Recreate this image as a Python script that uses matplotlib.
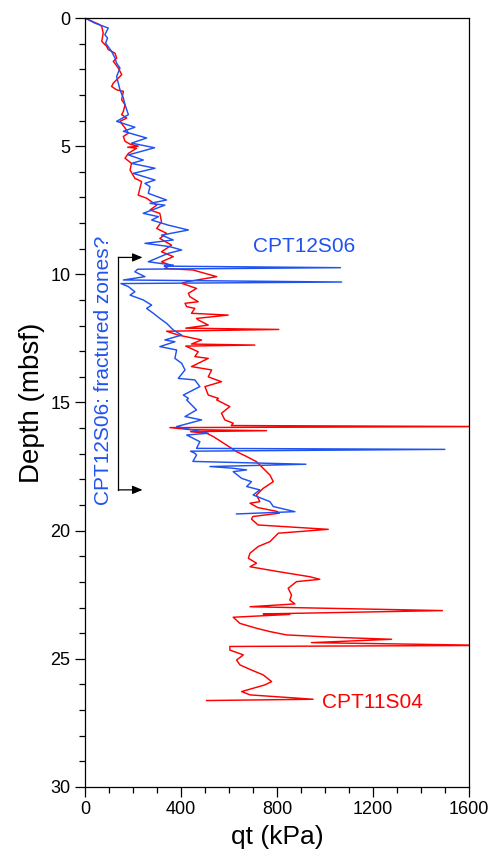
import matplotlib
matplotlib.use('Agg')
import matplotlib.pyplot as plt
from matplotlib.ticker import MultipleLocator

plt.rcParams['font.family'] = ['Liberation Sans', 'DejaVu Sans']

# CPT11S04 (red) - depth (m) and qt (kPa)
red_depth = [0.0, 0.26, 0.33, 0.59, 0.91, 1.10, 1.23, 1.37, 1.56, 1.69, 1.95, 2.21, 2.54, 2.67,
             2.80, 2.86, 3.19, 3.38, 3.64, 3.77, 3.90, 4.03, 4.29, 4.49, 4.62, 4.81, 4.92, 5.00,
             5.04, 5.08, 5.28, 5.47, 5.67, 5.93, 6.25, 6.38, 6.65, 6.91, 7.03, 7.17, 7.30, 7.49,
             7.62, 7.95, 8.21, 8.40, 8.60, 8.86, 9.12, 9.31, 9.51, 9.64, 9.77, 9.83, 10.09, 10.29,
             10.35, 10.55, 10.74, 10.87, 11.07, 11.13, 11.26, 11.33, 11.52, 11.59, 11.72, 11.78,
             11.98, 12.10, 12.15, 12.22, 12.37, 12.56, 12.72, 12.76, 12.80, 13.02, 13.21, 13.28,
             13.60, 13.73, 14.00, 14.19, 14.38, 14.71, 14.84, 14.90, 15.16, 15.42, 15.68, 15.81,
             15.90, 15.94, 15.98, 16.06, 16.10, 16.14, 16.20, 16.33, 16.66, 16.92, 17.11, 17.31,
             17.57, 17.83, 18.09, 18.35, 18.61, 18.87, 18.93, 19.10, 19.25, 19.32, 19.45, 19.55,
             19.78, 19.95, 20.10, 20.43, 20.62, 20.88, 21.08, 21.27, 21.41, 21.60, 21.80, 21.90,
             21.99, 22.25, 22.51, 22.71, 22.86, 22.97, 23.12, 23.25, 23.27, 23.38, 23.62, 23.81,
             23.94, 24.07, 24.16, 24.24, 24.37, 24.48, 24.52, 24.66, 24.85, 25.05, 25.24, 25.44,
             25.63, 25.89, 26.02, 26.28, 26.41, 26.58, 26.63]
red_qt = [0, 62, 70, 76, 70, 90, 97, 125, 132, 118, 139, 153, 118, 111,
          132, 160, 153, 167, 160, 153, 174, 146, 167, 181, 160, 167, 188, 222,
          178, 215, 181, 167, 194, 188, 208, 236, 229, 222, 257, 278, 299, 271,
          312, 319, 299, 340, 312, 361, 319, 368, 319, 354, 333, 450, 549, 424,
          403, 465, 431, 437, 472, 417, 424, 458, 444, 597, 465, 472,
          514, 420, 808, 340, 389, 486, 444, 708, 420, 472, 458, 514,
          444, 528, 514, 569, 500, 514, 556, 549, 604, 569, 583, 618,
          610, 1700, 354, 440, 757, 440, 507, 535, 590, 632, 674, 715,
          743, 771, 785, 743, 715, 729, 688, 720, 800, 810, 700, 694,
          722, 1014, 806, 771, 722, 688, 681, 715, 688, 806, 938, 979,
          882, 847, 861, 854, 875, 688, 1490, 743, 854, 618, 646, 715,
          771, 840, 1035, 1278, 944, 1700, 604, 604, 660, 632, 646, 694,
          743, 778, 750, 653, 688, 951, 507]

# CPT12S06 (blue)
blue_depth = [0.0, 0.20, 0.39, 0.65, 0.78, 0.98, 1.30, 1.56, 1.76, 1.95, 2.28, 2.54, 2.80, 3.12,
              3.38, 3.77, 4.03, 4.26, 4.42, 4.68, 4.88, 5.06, 5.34, 5.54, 5.67, 5.86, 6.06, 6.32,
              6.45, 6.58, 6.84, 7.10, 7.23, 7.30, 7.62, 7.75, 7.88, 8.08, 8.27, 8.47, 8.66, 8.79,
              8.92, 9.05, 9.18, 9.51, 9.64, 9.68, 9.74, 9.80, 9.90, 10.09, 10.22, 10.30, 10.36,
              10.48, 10.68, 10.81, 11.00, 11.20, 11.33, 11.52, 11.72, 11.91, 12.17, 12.37, 12.56,
              12.63, 12.82, 12.95, 13.28, 13.47, 13.73, 14.06, 14.12, 14.38, 14.71, 14.84, 14.90,
              15.29, 15.55, 15.68, 15.94, 16.20, 16.27, 16.53, 16.79, 16.83, 16.90, 16.98, 17.05,
              17.30, 17.41, 17.50, 17.56, 17.63, 17.70, 17.96, 18.09, 18.28, 18.41, 18.61, 18.87,
              19.06, 19.26, 19.35]
blue_qt = [0, 42, 97, 83, 94, 86, 111, 125, 132, 146, 132, 139, 146, 160,
           167, 181, 132, 208, 160, 257, 194, 290, 181, 243, 194, 292, 201, 292,
           250, 271, 264, 340, 271, 333, 243, 306, 278, 347, 431, 319, 368, 250,
           354, 403, 347, 264, 368, 330, 1065, 220, 208, 250, 160, 1070, 150,
           181, 208, 188, 243, 278, 257, 285, 312, 340, 368, 403, 333,
           375, 312, 382, 375, 403, 417, 389, 458, 479, 410, 431, 424,
           465, 417, 486, 382, 514, 424, 479, 465, 1500, 440, 458, 465,
           450, 921, 521, 610, 674, 618, 653, 694, 674, 729, 701, 771,
           785, 875, 632]

red = '#ff0000'
blue = '#1f52f0'

fig = plt.figure(figsize=(4.94, 8.6), dpi=100)
ax = fig.add_axes([0.172, 0.085, 0.777, 0.894])

ax.plot(red_qt, red_depth, color=red, lw=1.05)
ax.plot(blue_qt, blue_depth, color=blue, lw=1.05)

ax.set_xlim(0, 1600)
ax.set_ylim(30, 0)
ax.xaxis.set_major_locator(MultipleLocator(400))
ax.xaxis.set_minor_locator(MultipleLocator(100))
ax.yaxis.set_major_locator(MultipleLocator(5))
ax.yaxis.set_minor_locator(MultipleLocator(1))
ax.tick_params(which='both', direction='out', labelsize=13, width=0.9)
ax.tick_params(which='major', length=7)
ax.tick_params(which='minor', length=4)
for s in ax.spines.values():
    s.set_linewidth(0.9)

ax.set_xlabel('qt (kPa)', fontsize=19, labelpad=5)
ax.set_ylabel('Depth (mbsf)', fontsize=20, labelpad=4)

# labels for the two profiles
ax.text(700, 8.9, 'CPT12S06', color=blue, fontsize=15, ha='left', va='center')
ax.text(987, 26.7, 'CPT11S04', color=red, fontsize=15, ha='left', va='center')

# bracket for the fractured zones
ax.plot([139, 139], [9.34, 18.41], color='black', lw=0.9)
arrow = dict(arrowstyle='-|>,head_length=0.6,head_width=0.25', color='black', lw=0.9,
             shrinkA=0, shrinkB=0)
ax.annotate('', xy=(240, 9.34), xytext=(139, 9.34), arrowprops=arrow)
ax.annotate('', xy=(240, 18.41), xytext=(139, 18.41), arrowprops=arrow)
ax.text(79, 13.75, 'CPT12S06: fractured zones?', color=blue, fontsize=15,
        rotation=90, ha='center', va='center')

fig.savefig('out.png', dpi=100)
